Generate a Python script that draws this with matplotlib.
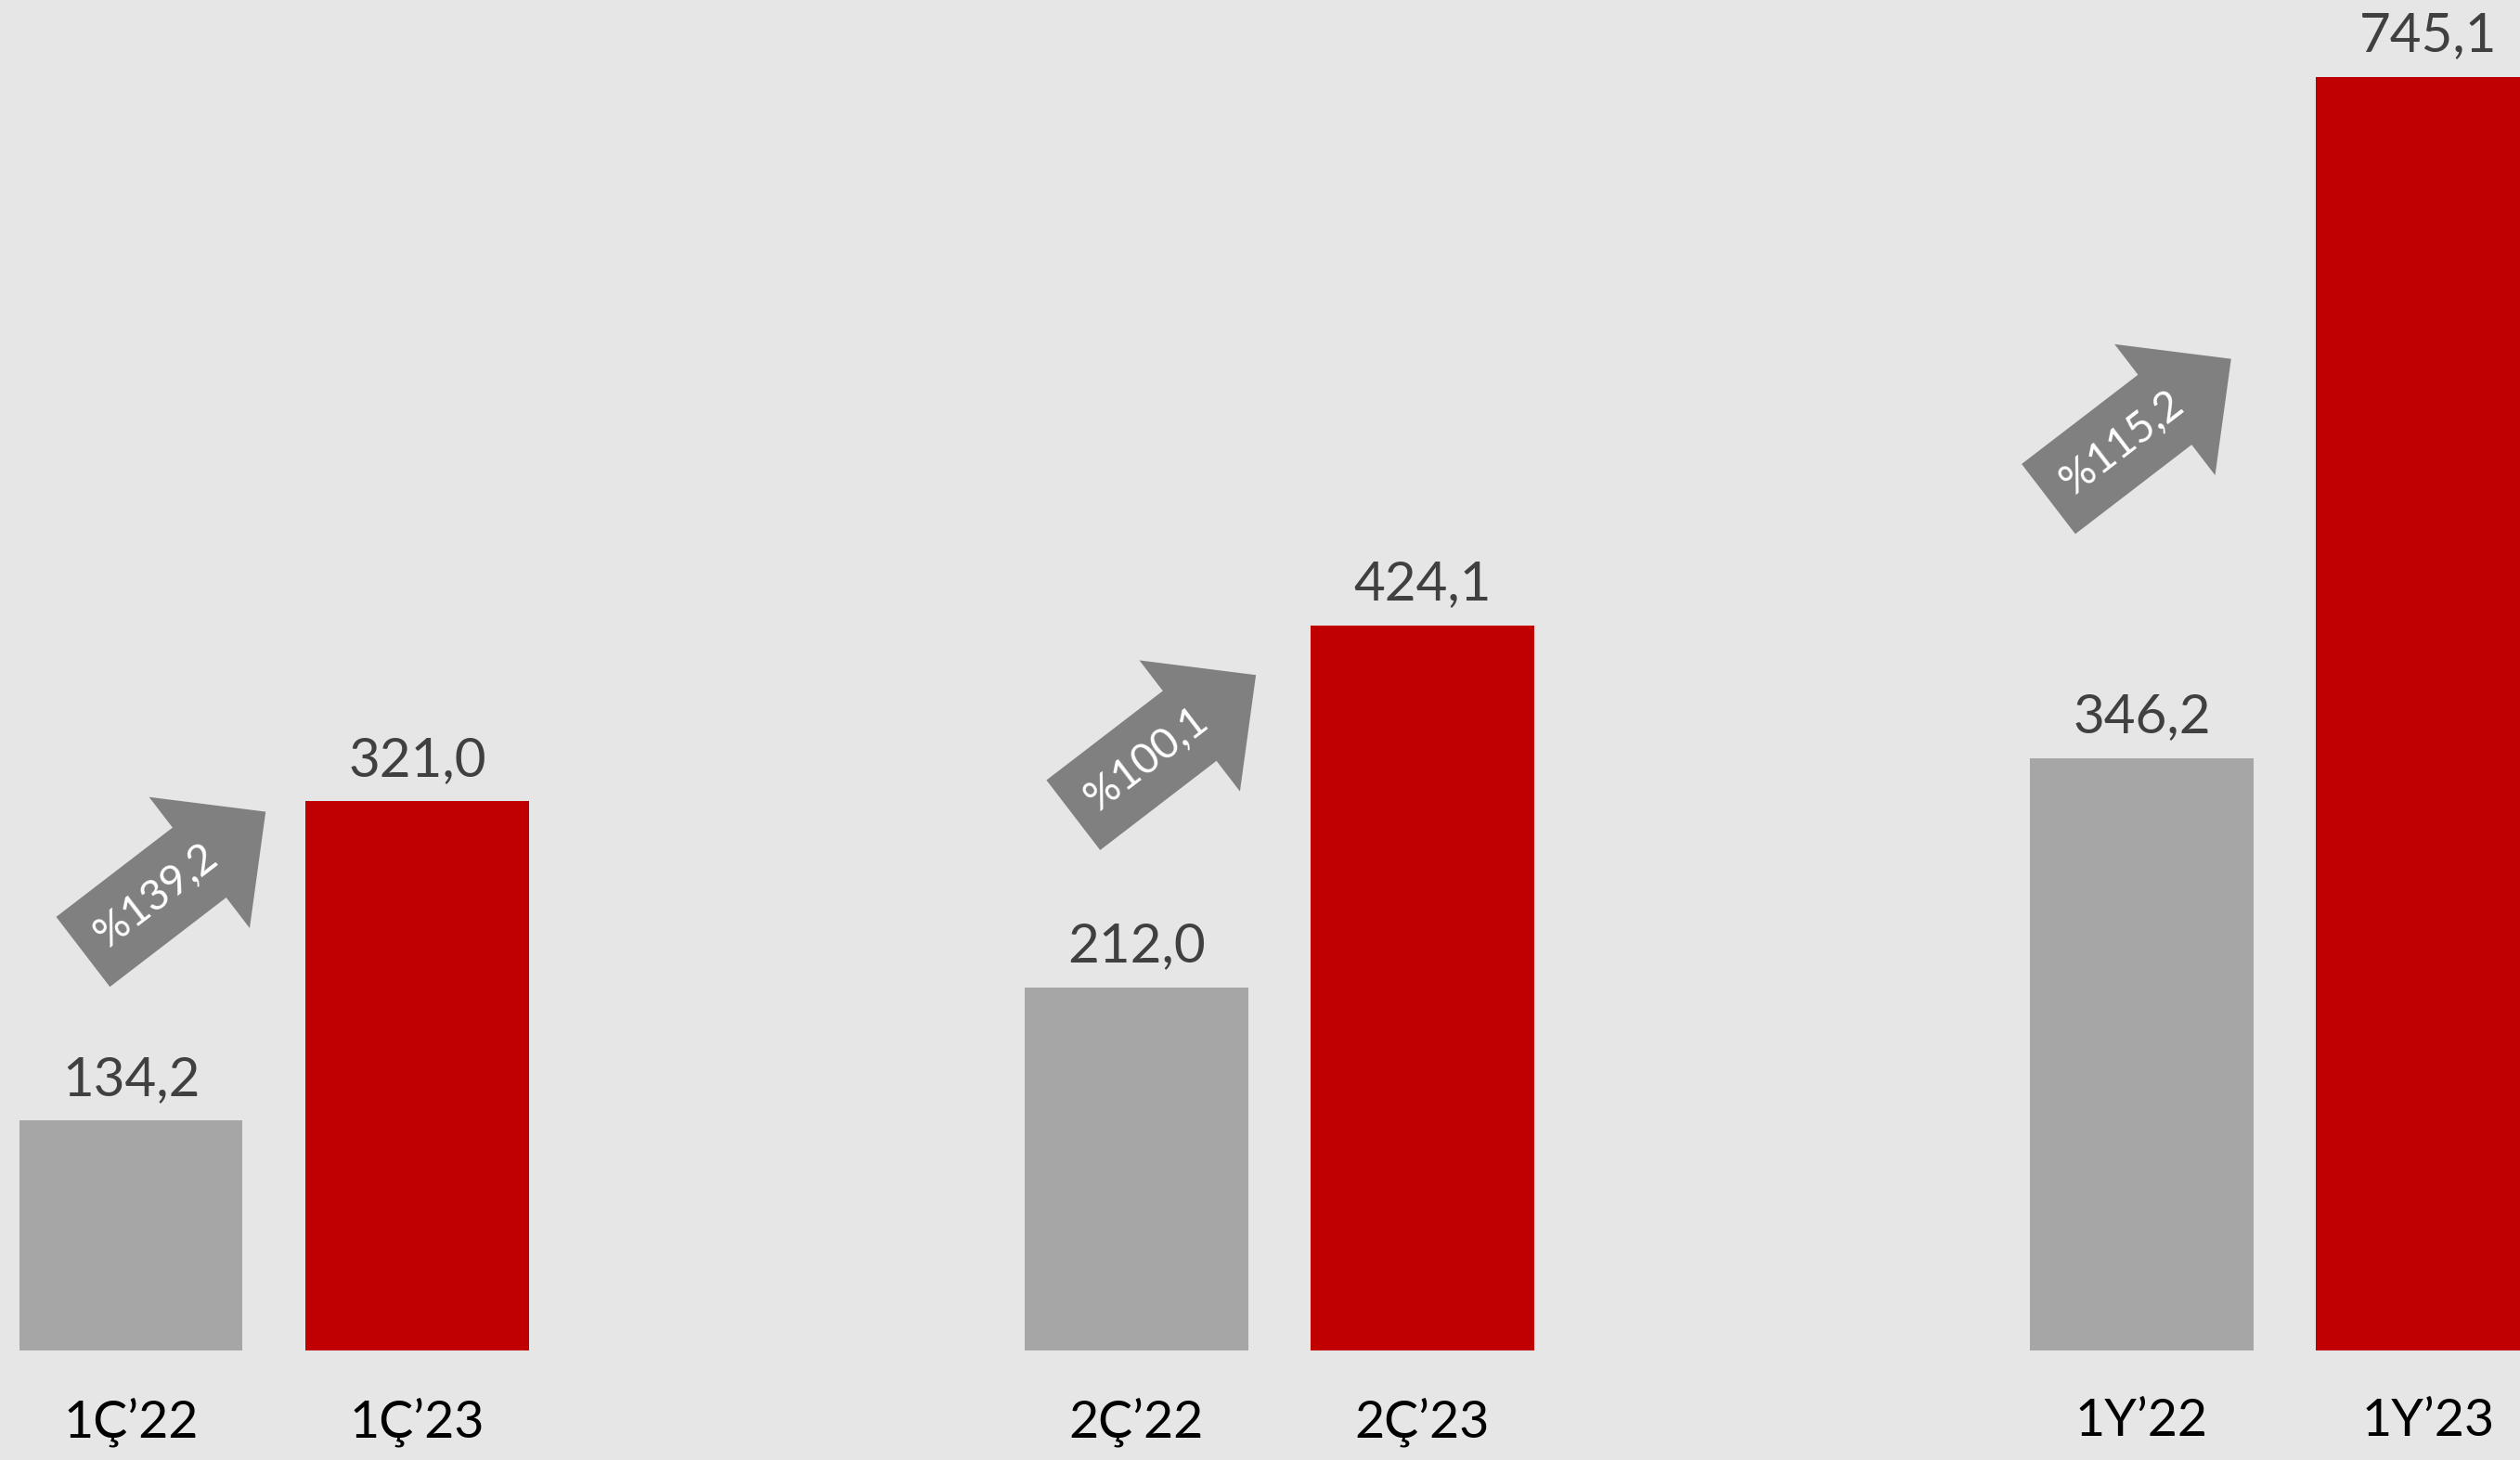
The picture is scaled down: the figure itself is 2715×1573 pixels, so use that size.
import numpy as np
import matplotlib.pyplot as plt
from matplotlib.patches import FancyArrow
from matplotlib.transforms import IdentityTransform

# Veriler
labels_22 = ["1Ç’22", "2Ç’22", "1Y’22"]
labels_23 = ["1Ç’23", "2Ç’23", "1Y’23"]
values_22 = [134.2, 212.0, 346.2]
values_23 = [321.0, 424.1, 745.1]
growth = ["%139,2", "%100,1", "%115,2"]

# Ok kuyruklarinin yeri (veri koordinatlari, x grup merkezine gore)
arrow_dx = [-0.19, -0.205, -0.235]
arrow_y = [233, 313, 498]

bg = '#E6E6E6'
grey = '#A6A6A6'
red = '#C00000'
arrow_col = '#808080'

plt.rcParams['font.family'] = ['Lato', 'DejaVu Sans']

W, H = 2715, 1573
fig = plt.figure(figsize=(W / 100, H / 100), dpi=100, facecolor=bg)
ax_bottom = 1 - 1454.5 / H
ax = fig.add_axes([0, ax_bottom, 1, 1 - ax_bottom])
ax.set_facecolor(bg)

x = np.arange(len(values_22))
off = 0.1423
w = 0.222
ax.bar(x - off, values_22, w, color=grey)
ax.bar(x + off, values_23, w, color=red)

ax.set_xlim(-0.2726, 2.234)
ax.set_ylim(0, 790)
for s in ax.spines.values():
    s.set_visible(False)
ax.set_yticks([])
ax.set_xticks(np.concatenate([x - off, x + off]), labels_22 + labels_23,
              fontsize=40, color='black')
ax.tick_params(axis='x', length=0, pad=37)

# Deger etiketleri
for xs, vals in [(x - off, values_22), (x + off, values_23)]:
    for xi, v in zip(xs, vals):
        ax.annotate(f'{v:.1f}'.replace('.', ','), (xi, v), xytext=(0, 20),
                    textcoords='offset points', ha='center', va='baseline',
                    fontsize=42, color='#404040')

# Buyume oklari
ang = np.radians(37.5)
L = 248
for i in range(3):
    px, py = ax.transData.transform((x[i] + arrow_dx[i], arrow_y[i]))
    dx, dy = L * np.cos(ang), L * np.sin(ang)
    arr = FancyArrow(px, py, dx, dy, width=95, head_width=178, head_length=90,
                     length_includes_head=True, transform=IdentityTransform(),
                     facecolor=arrow_col, edgecolor='none')
    fig.add_artist(arr)
    fig.text(px + 0.4 * dx, py + 0.4 * dy, growth[i], transform=IdentityTransform(),
             rotation=37.5, rotation_mode='anchor', ha='center', va='center',
             fontsize=33, color='white')

fig.savefig('out.png', dpi=100, facecolor=bg)
